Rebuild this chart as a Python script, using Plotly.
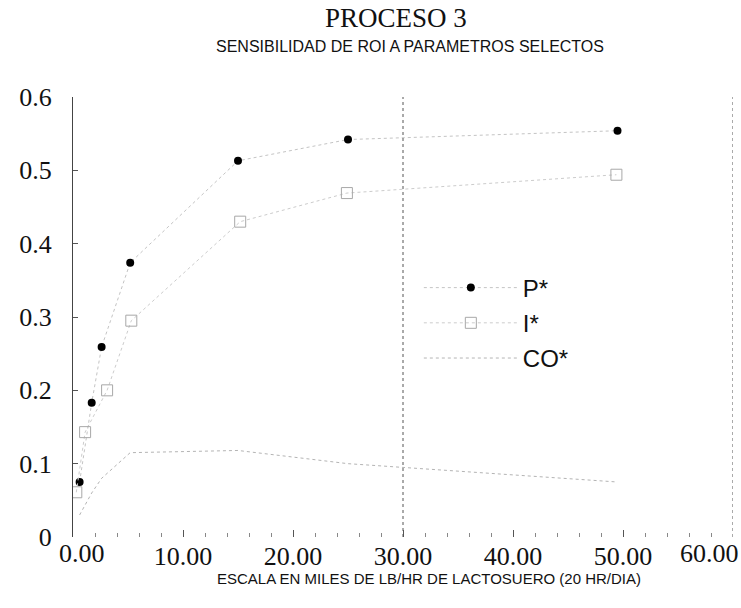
import plotly.graph_objects as go

# Data
x_P = [0.6, 1.7, 2.6, 5.2, 15.0, 25.0, 49.5]
P_vals = [0.075, 0.183, 0.259, 0.374, 0.513, 0.542, 0.554]

x_I = [0.3, 1.1, 3.1, 5.3, 15.2, 24.9, 49.4]
I_vals = [0.061, 0.143, 0.200, 0.295, 0.430, 0.469, 0.494]

x_CO = [0.6, 1.7, 2.6, 5.2, 15.0, 25.0, 49.5]
CO_vals = [0.030, 0.060, 0.080, 0.115, 0.118, 0.100, 0.075]

x_ticks = [0, 10, 20, 30, 40, 50, 60]
x_ticklabels = ["", "10.00", "20.00", "30.00", "40.00", "50.00", ""]
first_x_label = "0.00"
last_x_label = "60.00"
y_ticks = [0, 0.1, 0.2, 0.3, 0.4, 0.5, 0.6]
y_ticklabels = ["0", "0.1", "0.2", "0.3", "0.4", "0.5", "0.6"]

SERIF = "Liberation Serif"
SANS = "Liberation Sans"

fig = go.Figure()
fig.add_trace(go.Scatter(
    x=x_P, y=P_vals, name="P*", mode="lines+markers", legendgroup="p",
    line=dict(color="#c4c4c4", width=1, dash="dot"),
    marker=dict(symbol="circle", size=8, color="#000000"),
))
fig.add_trace(go.Scatter(
    x=x_I, y=I_vals, name="I*", mode="lines+markers", legendgroup="i",
    line=dict(color="#cccccc", width=1, dash="dot"),
    marker=dict(symbol="square-open", size=11, color="#a8a8a8", line=dict(width=1)),
))
fig.add_trace(go.Scatter(
    x=x_CO, y=CO_vals, name="CO*", mode="lines", legendgroup="co",
    line=dict(color="#b4b4b4", width=1, dash="dot"),
))

# reference vertical dividers at x=30 and x=60
for xv in (30, 60):
    fig.add_shape(type="line", xref="x", yref="y", x0=xv, x1=xv, y0=0, y1=0.6,
                  line=dict(color="#555555", width=1, dash="dot"))

fig.update_layout(
    width=741, height=608,
    margin=dict(l=73, r=8, t=97, b=71),
    paper_bgcolor="white", plot_bgcolor="white",
    showlegend=True,
    legend=dict(x=0.524, y=0.617, xanchor="left", yanchor="top",
                font=dict(family=SANS, size=24, color="#111111"),
                bgcolor="rgba(0,0,0,0)", tracegroupgap=1, itemwidth=94),
    annotations=[
        dict(text="PROCESO 3", xref="paper", yref="paper", x=0.49, y=1.0,
             yshift=97 - 18, xanchor="center", yanchor="middle", showarrow=False,
             font=dict(family=SERIF, size=27, color="#111111")),
        dict(text="SENSIBILIDAD DE ROI A PARAMETROS SELECTOS", xref="paper", yref="paper",
             x=0.511, y=1.0, yshift=97 - 46, xanchor="center", yanchor="middle",
             showarrow=False, font=dict(family=SANS, size=16, color="#111111")),
        dict(text="ESCALA EN MILES DE LB/HR DE LACTOSUERO (20 HR/DIA)", xref="paper",
             yref="paper", x=0.539, y=0, yshift=-(578 - 537), xanchor="center",
             yanchor="middle", showarrow=False,
             font=dict(family=SANS, size=15, color="#111111")),
        dict(text=first_x_label, xref="x", yref="paper", x=0, y=0, xshift=-16,
             yshift=-(553 - 537), xanchor="left", yanchor="middle", showarrow=False,
             font=dict(family=SERIF, size=26, color="#111111")),
        dict(text=last_x_label, xref="x", yref="paper", x=60, y=0, xshift=8,
             yshift=-(553 - 537), xanchor="right", yanchor="middle", showarrow=False,
             font=dict(family=SERIF, size=26, color="#111111")),
    ],
)

fig.update_xaxes(
    range=[0, 60], tickvals=x_ticks, ticktext=x_ticklabels,
    showgrid=False, zeroline=False, showline=False,
    ticks="inside", ticklen=7, tickcolor="#555555",
    minor=dict(dtick=2, ticks="inside", ticklen=4, tickcolor="#888888"),
    tickfont=dict(family=SERIF, size=26, color="#111111"),
    ticklabelstandoff=1,
)
fig.update_yaxes(
    range=[0, 0.6], tickvals=y_ticks, ticktext=y_ticklabels,
    showgrid=False, zeroline=False, showline=True, linecolor="#444444", linewidth=1,
    ticks="inside", ticklen=5, tickcolor="#555555",
    tickfont=dict(family=SERIF, size=26, color="#111111"),
    ticklabelstandoff=15,
)

fig.write_html("out.html")
